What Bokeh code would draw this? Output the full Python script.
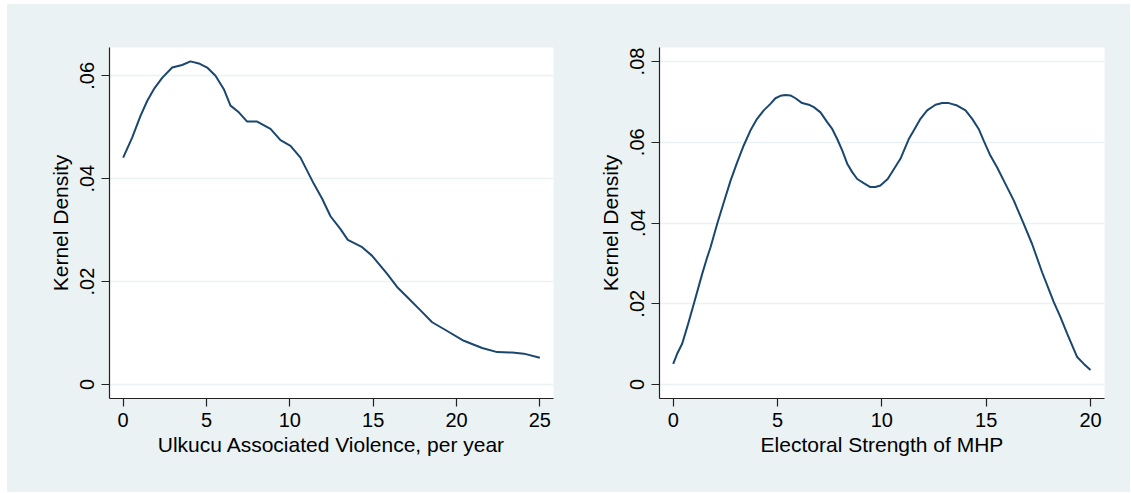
from bokeh.plotting import figure
from bokeh.layouts import row, column
from bokeh.models import FixedTicker, CustomJSTickFormatter, Range1d, Spacer
from bokeh.embed import file_html
from bokeh.resources import INLINE

# ---- data ----
violence_x = [0, 0.54, 1.04, 1.44, 1.84, 2.34, 2.94, 3.54, 4.04, 4.54, 5.04, 5.54, 6.04,
              6.44, 6.94, 7.44, 8.04, 8.84, 9.44, 10.04, 10.64, 11.44, 11.94, 12.44, 13.04,
              13.48, 14.34, 14.94, 15.84, 16.48, 17.04, 17.84, 18.54, 19.44, 20.44, 21.54,
              22.44, 23.34, 24.04, 25.0]
violence_d = [0.0441, 0.0480, 0.0522, 0.0551, 0.0574, 0.0596, 0.0616, 0.0621, 0.0628, 0.0624,
              0.0616, 0.0600, 0.0574, 0.0542, 0.0529, 0.0511, 0.0511, 0.0497, 0.0475, 0.0464,
              0.0441, 0.0390, 0.0361, 0.0327, 0.0302, 0.0281, 0.0267, 0.0250, 0.0215, 0.0188,
              0.0170, 0.0144, 0.0121, 0.0104, 0.0085, 0.0071, 0.0063, 0.0062, 0.0060, 0.0052]

mhp_x = [0, 0.19, 0.43, 0.67, 0.99, 1.39, 1.63, 1.79, 2.11, 2.43, 2.75, 3.07, 3.38, 3.70,
         4.02, 4.34, 4.66, 4.90, 5.14, 5.38, 5.62, 5.86, 6.18, 6.50, 6.74, 7.06, 7.38, 7.62,
         7.86, 8.10, 8.34, 8.58, 8.82, 9.13, 9.45, 9.69, 9.93, 10.28, 10.89, 11.29, 11.53,
         11.85, 12.17, 12.57, 12.89, 13.21, 13.61, 14.01, 14.33, 14.64, 14.88, 15.20, 15.52,
         15.92, 16.32, 16.80, 17.20, 17.68, 18.24, 18.56, 18.88, 19.36, 19.68, 20.0]
mhp_d = [0.0051, 0.0076, 0.0101, 0.0142, 0.0200, 0.0274, 0.0315, 0.0340, 0.0398, 0.0452,
         0.0505, 0.0551, 0.0592, 0.0629, 0.0658, 0.0679, 0.0695, 0.0709, 0.0715, 0.0717,
         0.0716, 0.0709, 0.0697, 0.0693, 0.0687, 0.0674, 0.0650, 0.0633, 0.0608, 0.0580,
         0.0547, 0.0526, 0.0509, 0.0499, 0.0489, 0.0489, 0.0493, 0.0509, 0.0559, 0.0608,
         0.0629, 0.0658, 0.0679, 0.0693, 0.0697, 0.0697, 0.0691, 0.0679, 0.0658, 0.0633,
         0.0604, 0.0567, 0.0538, 0.0497, 0.0456, 0.0398, 0.0348, 0.0278, 0.0204, 0.0167,
         0.0126, 0.0068, 0.0051, 0.0036]

left_xticks = [0, 5, 10, 15, 20, 25]
left_yticks = [0, 0.02, 0.04, 0.06]
right_xticks = [0, 5, 10, 15, 20]
right_yticks = [0, 0.02, 0.04, 0.06, 0.08]

left_xlabel = "Ulkucu Associated Violence, per year"
right_xlabel = "Electoral Strength of MHP"
ylabel = "Kernel Density"

BG = "#EAF2F3"
LINE = "#1A476F"
FONT = "Liberation Sans"

yfmt_code = """
if (Math.abs(tick) < 1e-9) { return "0"; }
return tick.toFixed(2).replace(/^0/, "");
"""


def make(xs, ys, xr, yr, xticks, yticks, xlabel, fw, bl, br):
    p = figure(frame_width=fw, frame_height=351, output_backend="svg",
               toolbar_location=None, x_range=Range1d(*xr), y_range=Range1d(*yr),
               min_border_left=bl, min_border_right=br, min_border_top=43,
               min_border_bottom=94)
    p.border_fill_color = BG
    p.background_fill_color = "white"
    p.outline_line_color = None
    p.line(xs, ys, line_color=LINE, line_width=2)

    p.xgrid.visible = False
    p.ygrid.grid_line_color = BG
    p.ygrid.grid_line_width = 1.5
    p.ygrid.ticker = FixedTicker(ticks=yticks)

    p.xaxis.ticker = FixedTicker(ticks=xticks)
    p.yaxis.ticker = FixedTicker(ticks=yticks)
    p.yaxis.formatter = CustomJSTickFormatter(code=yfmt_code)
    p.yaxis.major_label_orientation = "vertical"

    p.xaxis.axis_label = xlabel
    p.yaxis.axis_label = ylabel
    for ax in (p.xaxis, p.yaxis):
        ax.axis_line_color = "#222222"
        ax.axis_line_width = 1.2
        ax.major_tick_line_color = "#222222"
        ax.major_tick_line_width = 1.2
        ax.major_tick_out = 8
        ax.major_tick_in = 0
        ax.minor_tick_line_color = None
        ax.major_label_text_font = FONT
        ax.major_label_text_font_size = "20px"
        ax.major_label_text_color = "black"
        ax.axis_label_text_font = FONT
        ax.axis_label_text_font_size = "21px"
        ax.axis_label_text_font_style = "normal"
        ax.axis_label_text_color = "black"
        ax.major_label_standoff = 6
        ax.axis_label_standoff = 6
    p.yaxis.major_label_standoff = 7
    p.xaxis.axis_label_standoff = 3
    return p


left = make(violence_x, violence_d, (-0.82, 25.82), (-0.00272, 0.0655),
            left_xticks, left_yticks, left_xlabel, 444, 102, 12)
right = make(mhp_x, mhp_d, (-0.656, 20.67), (-0.00347, 0.08347),
             right_xticks, right_yticks, right_xlabel, 445, 94, 26)

panels = row(left, right, styles={"background-color": BG})
layout = column(Spacer(height=4), row(Spacer(width=7), panels))
open("out.html", "w").write(file_html(layout, INLINE))
